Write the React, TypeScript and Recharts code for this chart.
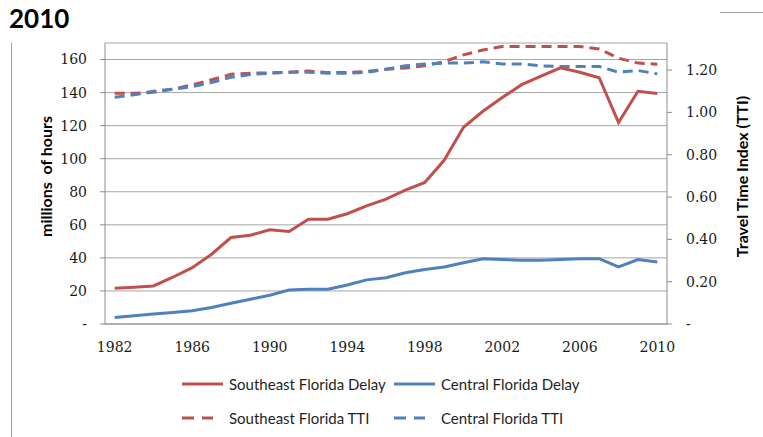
import React from "react";
import {
  LineChart,
  Line,
  XAxis,
  YAxis,
  CartesianGrid,
  Legend
} from "recharts";

const years = [
  1982, 1983, 1984, 1985, 1986, 1987, 1988, 1989, 1990, 1991, 1992, 1993, 1994, 1995,
  1996, 1997, 1998, 1999, 2000, 2001, 2002, 2003, 2004, 2005, 2006, 2007, 2008, 2009, 2010
];

// millions of hours
const seDelay = [
  21.6, 22.2, 23, 28.3, 34.1, 42.2, 52.3, 53.7, 57, 56, 63.4, 63.4, 66.7, 71.5,
  75.5, 81, 85.6, 99, 119, 128.7, 137, 144.8, 150, 155, 152.3, 149, 121.9, 140.8, 139.4
];
const cfDelay = [
  4, 5, 6, 7, 8, 10, 12.5, 15, 17.4, 20.6, 21, 21, 23.6, 26.7,
  28, 31, 33, 34.5, 37, 39.5, 39, 38.5, 38.5, 39, 39.5, 39.5, 34.5, 39, 37.5
];

// travel time index
const seTti = [
  1.09, 1.09, 1.095, 1.11, 1.13, 1.154, 1.18, 1.185, 1.187, 1.19, 1.196, 1.188, 1.188, 1.193,
  1.204, 1.21, 1.22, 1.24, 1.272, 1.295, 1.311, 1.311, 1.311, 1.311, 1.311, 1.3, 1.256, 1.233, 1.228
];
const cfTti = [
  1.072, 1.083, 1.1, 1.11, 1.122, 1.141, 1.166, 1.179, 1.185, 1.19, 1.19, 1.185, 1.185, 1.19,
  1.204, 1.22, 1.229, 1.233, 1.233, 1.239, 1.229, 1.229, 1.22, 1.217, 1.217, 1.217, 1.19, 1.198, 1.182
];

const yearLabels = [1982, 1986, 1990, 1994, 1998, 2002, 2006, 2010];
const delayTicks = [0, 20, 40, 60, 80, 100, 120, 140, 160];
const ttiTicks = [0, 0.2, 0.4, 0.6, 0.8, 1.0, 1.2];

const RED = "#C0504D";
const BLUE = "#4F81BD";
const GRAY = "#8c8c8c";

const data = years.map((year, i) => ({
  year,
  seDelay: seDelay[i],
  cfDelay: cfDelay[i],
  seTti: seTti[i],
  cfTti: cfTti[i]
}));

// category boundaries, where Excel puts the x tick marks
const boundaries = [1981.5, ...years.map((y) => y + 0.5)];

const legendItems = [
  { name: "Southeast Florida Delay", color: RED, dashed: false },
  { name: "Central Florida Delay", color: BLUE, dashed: false },
  { name: "Southeast Florida TTI", color: RED, dashed: true },
  { name: "Central Florida TTI", color: BLUE, dashed: true }
];

const tickStyle = { fontFamily: "DejaVu Serif", fontSize: 14, fill: "#1a1a1a" };
const titleFont = "Lato, 'Open Sans', sans-serif";

const ChartLegend = () => (
  <div style={{ position: "relative", width: 763, height: 65 }}>
    {legendItems.map((item, i) => {
      const col = i % 2;
      const row = Math.floor(i / 2);
      return (
        <div
          key={item.name}
          style={{
            position: "absolute",
            left: 182 + col * 212,
            top: 12 + row * 34 - 10,
            height: 20,
            display: "flex",
            alignItems: "center",
            fontFamily: titleFont,
            fontSize: 15,
            color: "#1f1f1f",
            whiteSpace: "nowrap"
          }}
        >
          <svg width={47} height={20}>
            <line
              x1={0}
              x2={item.dashed ? 31 : 41}
              y1={10}
              y2={10}
              stroke={item.color}
              strokeWidth={3}
              strokeDasharray={item.dashed ? "12 8" : undefined}
            />
          </svg>
          <span>{item.name}</span>
        </div>
      );
    })}
  </div>
);

const LeftTitle = (props: any) => {
  const { viewBox } = props;
  const cx = 45;
  const cy = viewBox.y + viewBox.height / 2 - 7;
  return (
    <text
      x={cx}
      y={cy}
      transform={`rotate(-90, ${cx}, ${cy})`}
      textAnchor="middle"
      dominantBaseline="central"
      fontFamily={titleFont}
      fontWeight="bold"
      fontSize={16}
      fill="#000"
      style={{ whiteSpace: "pre" }}
    >
      millions  of hours
    </text>
  );
};

const RightTitle = (props: any) => {
  const { viewBox } = props;
  const cx = 741;
  const cy = viewBox.y + viewBox.height / 2 - 7;
  return (
    <text
      x={cx}
      y={cy}
      transform={`rotate(-90, ${cx}, ${cy})`}
      textAnchor="middle"
      dominantBaseline="central"
      fontFamily={titleFont}
      fontWeight="bold"
      fontSize={16}
      fill="#000"
    >
      Travel Time Index (TTI)
    </text>
  );
};

export default function App() {
  return (
    <div
      style={{
        position: "absolute",
        left: 0,
        top: 0,
        width: 763,
        height: 437,
        background: "#fff",
        overflow: "hidden"
      }}
    >
      <div
        style={{
          position: "absolute",
          left: 9,
          top: 2,
          fontFamily: titleFont,
          fontWeight: "bold",
          fontSize: 26,
          color: "#000"
        }}
      >
        2010
      </div>
      <div
        style={{
          position: "absolute",
          left: 720,
          top: 12,
          width: 43,
          height: 1,
          background: "#a0a0a0"
        }}
      />
      <div
        style={{
          position: "absolute",
          left: 11,
          top: 43,
          width: 1,
          height: 394,
          background: "#a0a0a0"
        }}
      />
      <div style={{ position: "absolute", left: 0, top: 0 }}>
        <LineChart
          width={763}
          height={437}
          data={data}
          margin={{ top: 43, right: 10, left: 12, bottom: 0 }}
        >
          <CartesianGrid
            yAxisId="delay"
            xAxisId="cat"
            vertical={false}
            stroke="#a6a6a6"
            strokeWidth={1}
          />
          <XAxis
            xAxisId="cat"
            dataKey="year"
            type="number"
            domain={[1981.5, 2010.5]}
            allowDataOverflow
            ticks={boundaries}
            interval={0}
            tick={false}
            tickSize={5}
            height={8}
            axisLine={{ stroke: GRAY }}
            tickLine={{ stroke: GRAY }}
          />
          <XAxis
            xAxisId="lab"
            dataKey="year"
            type="number"
            domain={[1981.5, 2010.5]}
            allowDataOverflow
            ticks={yearLabels}
            interval={0}
            height={40}
            axisLine={false}
            tickLine={false}
            tickMargin={4}
            tick={tickStyle}
          />
          <YAxis
            yAxisId="delay"
            width={93}
            domain={[0, 170]}
            allowDataOverflow
            ticks={delayTicks}
            interval={0}
            tickSize={5}
            tickMargin={13}
            tick={tickStyle}
            axisLine={{ stroke: GRAY }}
            tickLine={{ stroke: GRAY }}
            tickFormatter={(v: number) => (v === 0 ? "-" : String(v))}
            label={{ content: LeftTitle }}
          />
          <YAxis
            yAxisId="tti"
            orientation="right"
            width={86}
            domain={[0, 1.328]}
            allowDataOverflow
            ticks={ttiTicks}
            interval={0}
            tickSize={5}
            tickMargin={14}
            tick={{ ...tickStyle, textAnchor: "start" }}
            axisLine={{ stroke: GRAY }}
            tickLine={{ stroke: GRAY }}
            tickFormatter={(v: number) => (v === 0 ? "-" : v.toFixed(2))}
            label={{ content: RightTitle }}
          />
          <Line
            xAxisId="cat"
            yAxisId="tti"
            type="linear"
            dataKey="seTti"
            stroke={RED}
            strokeWidth={3}
            strokeDasharray="10 6"
            dot={false}
            isAnimationActive={false}
          />
          <Line
            xAxisId="cat"
            yAxisId="tti"
            type="linear"
            dataKey="cfTti"
            stroke={BLUE}
            strokeWidth={3}
            strokeDasharray="10 6"
            dot={false}
            isAnimationActive={false}
          />
          <Line
            xAxisId="cat"
            yAxisId="delay"
            type="linear"
            dataKey="seDelay"
            stroke={RED}
            strokeWidth={3}
            dot={false}
            isAnimationActive={false}
          />
          <Line
            xAxisId="cat"
            yAxisId="delay"
            type="linear"
            dataKey="cfDelay"
            stroke={BLUE}
            strokeWidth={3}
            dot={false}
            isAnimationActive={false}
          />
          <Legend
            verticalAlign="bottom"
            height={65}
            content={() => <ChartLegend />}
            wrapperStyle={{ left: 0, width: 763 }}
          />
        </LineChart>
      </div>
    </div>
  );
}
